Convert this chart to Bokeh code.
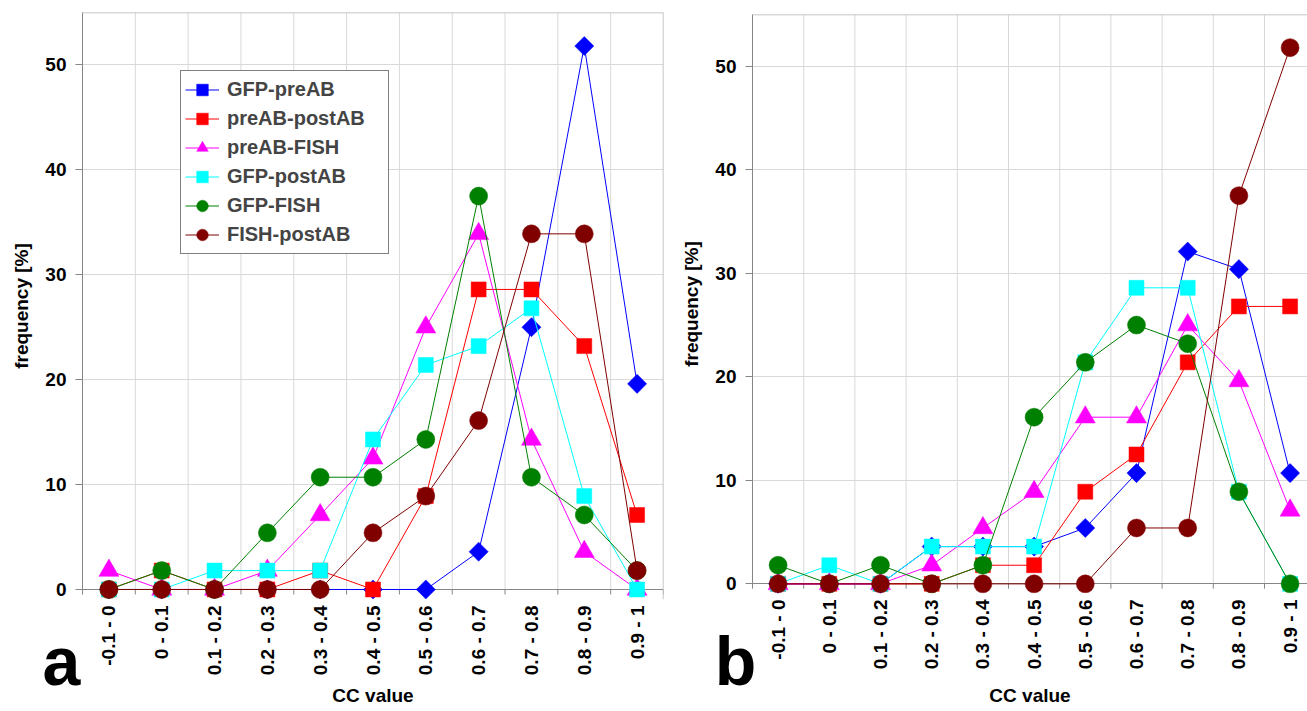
import math
from bokeh.plotting import figure
from bokeh.models import Range1d, FixedTicker, Span, Grid, GridBox
from bokeh.embed import file_html
from bokeh.resources import INLINE
from bokeh.core.properties import value

# ---------------- data ----------------
categories = ["-0.1 - 0", "0 - 0.1", "0.1 - 0.2", "0.2 - 0.3", "0.3 - 0.4",
              "0.4 - 0.5", "0.5 - 0.6", "0.6 - 0.7", "0.7 - 0.8", "0.8 - 0.9", "0.9 - 1"]
series_names = ["GFP-preAB", "preAB-postAB", "preAB-FISH", "GFP-postAB", "GFP-FISH", "FISH-postAB"]
panel_letters = ["a", "b"]

a_gfp_preab    = [0, 0, 0, 0, 0, 0, 0, 3.6, 25.0, 51.8, 19.6]
a_preab_postab = [0, 1.8, 0, 0, 1.8, 0, 8.9, 28.6, 28.6, 23.2, 7.1]
a_preab_fish   = [1.8, 0, 0, 1.8, 7.1, 12.5, 25.0, 33.9, 14.3, 3.6, 0]
a_gfp_postab   = [0, 0, 1.8, 1.8, 1.8, 14.3, 21.4, 23.2, 26.8, 8.9, 0]
a_gfp_fish     = [0, 1.8, 0, 5.4, 10.7, 10.7, 14.3, 37.5, 10.7, 7.1, 1.8]
a_fish_postab  = [0, 0, 0, 0, 0, 5.4, 8.9, 16.1, 33.9, 33.9, 1.8]

b_gfp_preab    = [0, 0, 0, 3.6, 3.6, 3.6, 5.4, 10.7, 32.1, 30.4, 10.7]
b_preab_postab = [0, 0, 0, 0, 1.8, 1.8, 8.9, 12.5, 21.4, 26.8, 26.8]
b_preab_fish   = [0, 0, 0, 1.8, 5.4, 8.9, 16.1, 16.1, 25.0, 19.6, 7.1]
b_gfp_postab   = [0, 1.8, 0, 3.6, 3.6, 3.6, 21.4, 28.6, 28.6, 8.9, 0]
b_gfp_fish     = [1.8, 0, 1.8, 0, 1.8, 16.1, 21.4, 25.0, 23.2, 8.9, 0]
b_fish_postab  = [0, 0, 0, 0, 0, 0, 0, 5.4, 5.4, 37.5, 51.8]

y_ticks = [0, 10, 20, 30, 40, 50]
y_max = 55

# ---------------- styles ----------------
STYLES = [
    dict(color="#0000FF", marker="square", size=13.5, angle=math.pi / 4),
    dict(color="#FF0000", marker="square", size=15, angle=0),
    dict(color="#FF00FF", marker="triangle", size=20, angle=0),
    dict(color="#00FFFF", marker="square", size=15, angle=0),
    dict(color="#008000", marker="circle", size=18, angle=0),
    dict(color="#800000", marker="circle", size=18, angle=0),
]
FONT = "Liberation Sans"
AXIS_GRAY = "#868686"
GRID_GRAY = "#d9d9d9"
BORDER_GRAY = "#b4b4b4"
WIDTH = 1307
HEIGHT = 711


def make_panel(series, width, bl, br, bt, bb, x_end, y_start, xlabel_standoff, with_legend, right_border):
    xs = list(range(len(categories)))
    p = figure(width=width, height=HEIGHT, output_backend="svg", toolbar_location=None,
               x_range=Range1d(-0.5, x_end), y_range=Range1d(y_start, y_max),
               min_border_left=bl, min_border_right=br, min_border_top=bt, min_border_bottom=bb,
               outline_line_color=None, background_fill_color="white", border_fill_color="white")
    p.frame_align = False

    # grid
    p.xgrid.visible = False
    p.ygrid.ticker = FixedTicker(ticks=y_ticks[1:])
    p.ygrid.grid_line_color = GRID_GRAY
    bounds = [i + 0.5 for i in xs[:-1]]
    p.segment(x0=bounds, y0=0, x1=bounds, y1=y_max, line_color=GRID_GRAY, line_width=1, level="underlay")
    # zero line (category axis line), below the markers
    p.add_layout(Grid(dimension=1, ticker=FixedTicker(ticks=[0]), grid_line_color=AXIS_GRAY,
                      grid_line_width=1))
    # category boundary tick marks
    tick_pos = [i - 0.5 for i in xs] + [len(xs) - 0.5]
    p.segment(x0=tick_pos, y0=0, x1=tick_pos, y1=y_start * 0.5, line_color=AXIS_GRAY,
              line_width=1, level="underlay")

    # frame borders (top/right)
    p.add_layout(Span(location=y_max, dimension="width", line_color=BORDER_GRAY, line_width=1.5))
    if right_border:
        p.add_layout(Span(location=len(xs) - 0.5, dimension="height", line_color=BORDER_GRAY, line_width=1.5))

    # x axis
    xa = p.xaxis[0]
    xa.ticker = FixedTicker(ticks=xs)
    xa.major_label_overrides = {i: c for i, c in zip(xs, categories)}
    xa.major_tick_out = 0
    xa.major_tick_in = 0
    xa.minor_tick_out = 0
    xa.minor_tick_in = 0
    xa.axis_line_color = None
    xa.major_label_orientation = math.pi / 2
    xa.major_label_standoff = 6
    xa.major_label_text_font = FONT
    xa.major_label_text_font_style = "bold"
    xa.major_label_text_font_size = "19px"
    xa.major_label_text_color = "black"
    xa.axis_label = "CC value"
    xa.axis_label_text_font = FONT
    xa.axis_label_text_font_style = "bold"
    xa.axis_label_text_font_size = "19px"
    xa.axis_label_text_color = "black"
    xa.axis_label_standoff = xlabel_standoff

    # y axis
    ya = p.yaxis[0]
    ya.ticker = FixedTicker(ticks=y_ticks)
    ya.bounds = (y_start * 0.5, y_max)
    ya.major_tick_out = 7
    ya.major_tick_in = 0
    ya.minor_tick_out = 0
    ya.minor_tick_in = 0
    ya.major_tick_line_color = AXIS_GRAY
    ya.axis_line_color = AXIS_GRAY
    ya.major_label_standoff = 9
    ya.major_label_text_font = FONT
    ya.major_label_text_font_style = "bold"
    ya.major_label_text_font_size = "19px"
    ya.major_label_text_color = "black"
    ya.axis_label = "frequency [%]"
    ya.axis_label_text_font = FONT
    ya.axis_label_text_font_style = "bold"
    ya.axis_label_text_font_size = "19px"
    ya.axis_label_text_color = "black"
    ya.axis_label_standoff = 10

    # series
    for name, vals, st in zip(series_names, series, STYLES):
        kw = dict(legend_label=name) if with_legend else {}
        p.line(xs, vals, line_color=st["color"], line_width=1, **kw)
        p.scatter(xs, vals, marker=st["marker"], size=st["size"], angle=st["angle"],
                  fill_color=st["color"], line_color=st["color"], line_width=0.5, **kw)

    if with_legend:
        lg = p.legend[0]
        lg.location = (98, 345)
        lg.border_line_color = "black"
        lg.border_line_width = 1
        lg.background_fill_color = "white"
        lg.background_fill_alpha = 1
        lg.label_text_font = FONT
        lg.label_text_font_style = "bold"
        lg.label_text_font_size = "20px"
        lg.glyph_width = 34
        lg.glyph_height = 29
        lg.label_height = 20
        lg.spacing = 0
        lg.padding = 4
        lg.margin = 0
        lg.label_standoff = 8
        lg.label_width = 157
    return p


pa = make_panel([a_gfp_preab, a_preab_postab, a_preab_fish, a_gfp_postab, a_gfp_fish, a_fish_postab],
                width=670, bl=82, br=7, bt=12, bb=112, x_end=10.5, y_start=-0.955,
                xlabel_standoff=7, with_legend=True, right_border=True)
pb = make_panel([b_gfp_preab, b_preab_postab, b_preab_fish, b_gfp_postab, b_gfp_fish, b_fish_postab],
                width=637, bl=82, br=0, bt=14, bb=118, x_end=10.34, y_start=-0.93,
                xlabel_standoff=13, with_legend=False, right_border=False)

# transparent overlay (page pixel coordinates) carrying the panel letters
ov = figure(width=WIDTH, height=HEIGHT, output_backend="svg", toolbar_location=None, title=None,
            x_range=Range1d(0, WIDTH), y_range=Range1d(HEIGHT, 0),
            x_axis_location=None, y_axis_location=None,
            min_border=0, min_border_left=0, min_border_right=0, min_border_top=0, min_border_bottom=0,
            outline_line_color=None, background_fill_color=None, border_fill_color=None)
ov.frame_align = False
ov.xgrid.visible = False
ov.ygrid.visible = False
ov.text(x=[61, 735], y=[660, 660], text=panel_letters, text_font=value(FONT),
        text_font_style="bold", text_font_size=value("68px"), text_align="center",
        text_baseline="alphabetic", text_color="black")

layout = GridBox(children=[(pa, 0, 0), (pb, 0, 1), (ov, 0, 0, 1, 2)])
open("out.html", "w").write(file_html(layout, INLINE))
